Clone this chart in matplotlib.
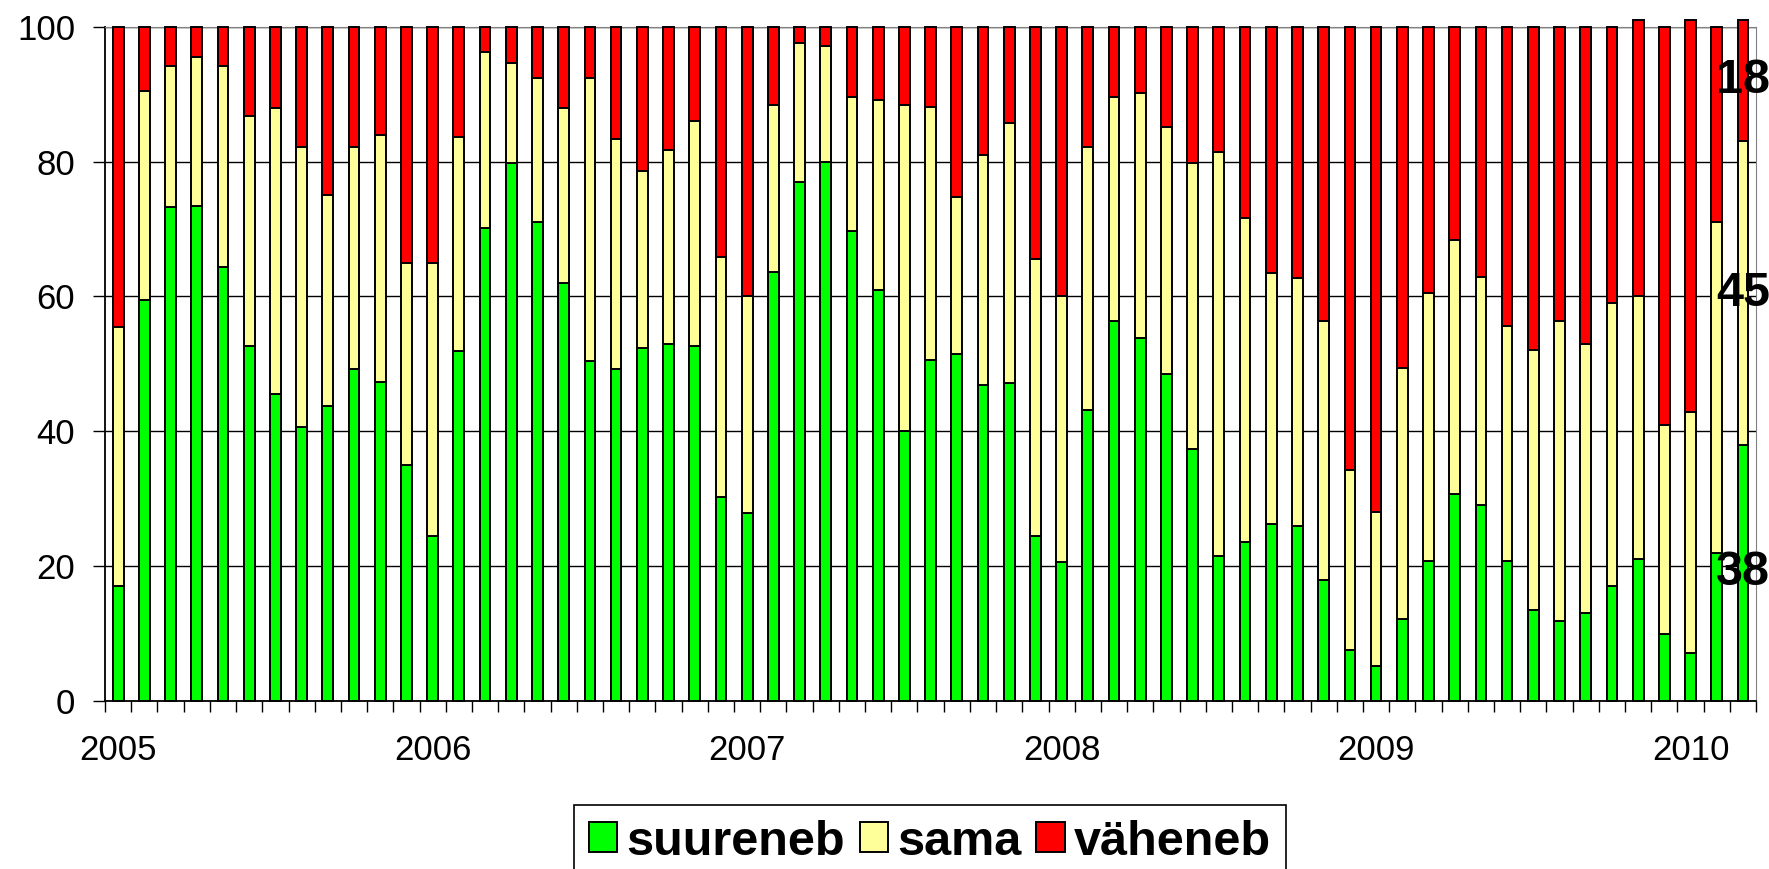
import matplotlib
matplotlib.use("Agg")
import matplotlib.pyplot as plt
from matplotlib.patches import Patch
import numpy as np

plt.rcParams["font.family"] = ["Liberation Sans", "DejaVu Sans"]

# monthly survey shares, Jan 2005 .. Mar 2010
months = [f"{y}-{m:02d}" for y in range(2005, 2011) for m in range(1, 13)][:63]
year_labels = ["2005", "2006", "2007", "2008", "2009", "2010"]

suureneb = [17.0, 59.4, 73.2, 73.4, 64.4, 52.7, 45.5, 40.7, 43.8, 49.2, 47.3, 35.0,
            24.4, 51.9, 70.1, 79.8, 71.1, 62.0, 50.4, 49.2, 52.3, 53.0, 52.7, 30.3,
            27.9, 63.6, 76.9, 80.0, 69.7, 61.0, 40.0, 50.6, 51.5, 46.9, 47.1, 24.4,
            20.6, 43.1, 56.3, 53.9, 48.5, 37.4, 21.5, 23.6, 26.2, 26.0, 17.9, 7.5,
            5.2, 12.1, 20.8, 30.7, 29.1, 20.8, 13.5, 11.8, 13.0, 17.0, 21.0, 9.9,
            7.1, 22.0, 38.0]
sama = [38.4, 31.1, 20.9, 22.1, 29.7, 34.0, 42.4, 41.5, 31.3, 33.0, 36.6, 29.9,
        40.5, 31.8, 26.1, 14.8, 21.3, 25.9, 42.0, 34.2, 26.3, 28.7, 33.3, 35.5,
        32.1, 24.8, 20.7, 17.2, 19.9, 28.1, 48.4, 37.5, 23.3, 34.1, 38.6, 41.2,
        39.4, 39.1, 33.3, 36.3, 36.6, 42.4, 59.9, 48.1, 37.2, 36.7, 38.4, 26.7,
        22.9, 37.3, 39.7, 37.7, 33.8, 34.8, 38.5, 44.5, 40.0, 42.0, 39.0, 31.1,
        35.8, 49.0, 45.0]
vaheneb = [44.6, 9.5, 5.9, 4.5, 5.9, 13.3, 12.1, 17.8, 24.9, 17.8, 16.1, 35.1,
           35.1, 16.3, 3.8, 5.4, 7.6, 12.1, 7.6, 16.6, 21.4, 18.3, 14.0, 34.2,
           40.0, 11.6, 2.4, 2.8, 10.4, 10.9, 11.6, 11.9, 25.2, 19.0, 14.3, 34.4,
           40.0, 17.8, 10.4, 9.8, 14.9, 20.2, 18.6, 28.3, 36.6, 37.3, 43.7, 65.8,
           71.9, 50.6, 39.5, 31.6, 37.1, 44.4, 48.0, 43.7, 47.0, 41.0, 41.0, 59.0,
           58.1, 29.0, 18.0]

GREEN, YELLOW, RED = "#00ff00", "#ffff99", "#ff0000"

fig = plt.figure(figsize=(17.69, 8.69), dpi=100)
ax = fig.add_axes([0.0594, 0.1933, 0.9333, 0.776])

x = np.arange(len(months))
g = np.array(suureneb)
s = np.array(sama)
r = np.array(vaheneb)
bar_kw = dict(width=0.41, edgecolor="black", linewidth=1.4, clip_on=False, zorder=3)
ax.bar(x, g, color=GREEN, **bar_kw)
ax.bar(x, s, bottom=g, color=YELLOW, **bar_kw)
ax.bar(x, r, bottom=g + s, color=RED, **bar_kw)

# values of the latest month written on its segments
last = len(x) - 1
mids = [g[last] / 2, g[last] + s[last] / 2, g[last] + s[last] + r[last] / 2]
for val, ym in zip([g[last], s[last], r[last]], mids):
    ax.text(x[last], ym, f"{val:.0f}", ha="center", va="center",
            fontsize=35, fontweight="bold", zorder=5)

ax.set_xlim(-0.5, len(x) - 0.5)
ax.set_ylim(0, 100)
ax.set_yticks(np.arange(0, 101, 20))
ax.tick_params(axis="y", labelsize=25, length=8.5, width=1, pad=13, color="black")
ax.yaxis.grid(True, color="black", linewidth=1)
ax.set_axisbelow(True)

ax.set_xticks(x[::12])
ax.set_xticklabels(year_labels)
ax.set_xticks(np.arange(len(x) + 1) - 0.5, minor=True)
ax.tick_params(axis="x", which="major", length=0, labelsize=25, pad=24)
ax.tick_params(axis="x", which="minor", length=8, width=1, color="black")

for side in ("top", "right"):
    ax.spines[side].set_color("#808080")
for side in ("left", "bottom"):
    ax.spines[side].set_color("black")
    ax.spines[side].set_linewidth(1.3)

handles = [Patch(facecolor=c, edgecolor="black", linewidth=1.4) for c in (GREEN, YELLOW, RED)]
leg = fig.legend(handles, ["suureneb", "sama", "väheneb"], loc="upper center",
                 bbox_to_anchor=(0.5257, 0.0737), borderaxespad=0, ncol=3,
                 frameon=True, fancybox=False, edgecolor="black", framealpha=1,
                 borderpad=0.3, handlelength=0.58, handleheight=0.58,
                 handletextpad=0.2, columnspacing=0.3,
                 prop={"size": 35, "weight": "bold"})
leg.get_frame().set_linewidth(1.2)

fig.savefig("out.png", dpi=100)
